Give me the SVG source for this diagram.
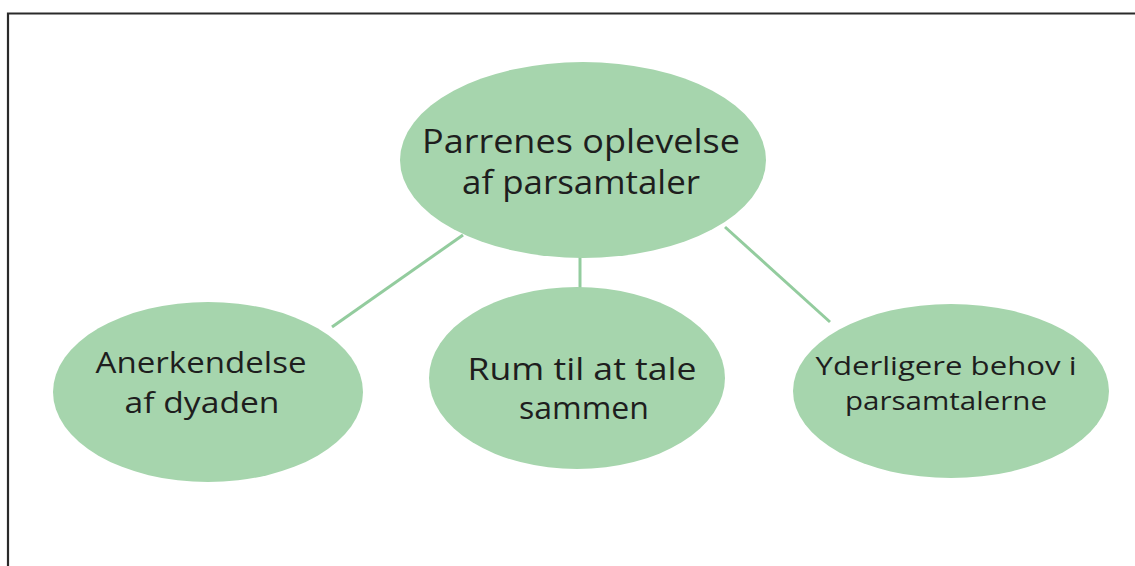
<svg xmlns="http://www.w3.org/2000/svg" width="1135" height="566" viewBox="0 0 1135 566">
<style>
.node{fill:#a6d5ad}
.lbl{font-family:"Open Sans","Noto Sans",sans-serif;fill:#1e1e1e;text-anchor:middle}
.conn{stroke:#93cc9e;stroke-width:3;fill:none}
</style>
<rect width="1135" height="566" fill="#fff"/>
<path d="M8 566 V13.5 H1135" fill="none" stroke="#2a2a2a" stroke-width="2.2"/>
<g id="connectors">
<line class="conn" x1="463" y1="235" x2="332" y2="327"/>
<line class="conn" x1="580" y1="250" x2="580" y2="295"/>
<line class="conn" x1="725" y1="227" x2="830" y2="322"/>
</g>
<g id="root">
<ellipse class="node" cx="583" cy="160" rx="183" ry="98"/>
<text class="lbl" font-size="33"><tspan x="581" y="153" textLength="318" lengthAdjust="spacingAndGlyphs">Parrenes oplevelse</tspan><tspan x="581" y="194" textLength="238" lengthAdjust="spacingAndGlyphs">af parsamtaler</tspan></text>
</g>
<g id="n1">
<ellipse class="node" cx="208" cy="392" rx="155" ry="90"/>
<text class="lbl" font-size="30"><tspan x="201" y="373" textLength="211" lengthAdjust="spacingAndGlyphs">Anerkendelse</tspan><tspan x="202" y="413" textLength="155" lengthAdjust="spacingAndGlyphs">af dyaden</tspan></text>
</g>
<g id="n2">
<ellipse class="node" cx="577" cy="378" rx="148" ry="91"/>
<text class="lbl" font-size="31"><tspan x="582" y="380" textLength="229" lengthAdjust="spacingAndGlyphs">Rum til at tale</tspan><tspan x="584" y="419" textLength="130" lengthAdjust="spacingAndGlyphs">sammen</tspan></text>
</g>
<g id="n3">
<ellipse class="node" cx="951" cy="391" rx="158" ry="87"/>
<text class="lbl" font-size="26"><tspan x="946" y="375" textLength="261" lengthAdjust="spacingAndGlyphs">Yderligere behov i</tspan><tspan x="946" y="410" textLength="202" lengthAdjust="spacingAndGlyphs">parsamtalerne</tspan></text>
</g>
</svg>
